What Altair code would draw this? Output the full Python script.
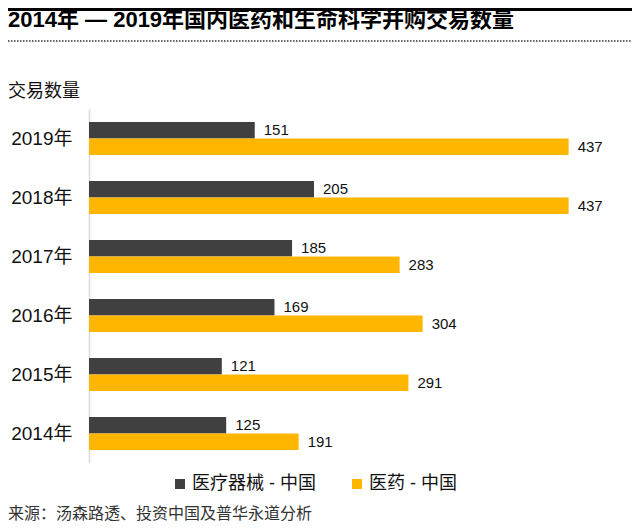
import altair as alt
import pandas as pd

years = ["2019年", "2018年", "2017年", "2016年", "2015年", "2014年"]
device = [151, 205, 185, 169, 121, 125]
pharma = [437, 437, 283, 304, 291, 191]
series_names = ["医疗器械 - 中国", "医药 - 中国"]
colors = ["#404040", "#FFB600"]

title_text = "2014年 — 2019年国内医药和生命科学并购交易数量"
ytitle_text = "交易数量"
source_text = "来源：汤森路透、投资中国及普华永道分析"

FONT = 'Liberation Sans, Arial, "Noto Sans CJK SC", sans-serif'

rows = []
for y, d, p in zip(years, device, pharma):
    rows.append({"year": y, "series": series_names[0], "value": d})
    rows.append({"year": y, "series": series_names[1], "value": p})
df = pd.DataFrame(rows)

base = alt.Chart(df).encode(
    y=alt.Y("year:N", sort=years,
            scale=alt.Scale(paddingInner=0.44, paddingOuter=0.22),
            axis=alt.Axis(title=None, ticks=False, domain=True, domainColor="#d9d9d9",
                          domainWidth=1.5, labelFontSize=19, labelColor="#111",
                          labelPadding=17, grid=False, labelFont=FONT)),
    yOffset=alt.YOffset("series:N", sort=series_names),
    x=alt.X("value:Q", scale=alt.Scale(domain=[0, 492]), axis=None),
)

bars = base.mark_bar(size=16.5).encode(
    color=alt.Color("series:N", sort=series_names,
                    scale=alt.Scale(domain=series_names, range=colors),
                    legend=alt.Legend(title=None, orient="none", direction="horizontal",
                                      legendX=82, legendY=366, symbolType="square",
                                      symbolSize=100, symbolStrokeWidth=0,
                                      labelFontSize=18, labelFont=FONT, labelColor="#111",
                                      labelOffset=3, columnPadding=32))
)

labels = base.mark_text(align="left", baseline="middle", dx=9, fontSize=15,
                        font=FONT, color="#111").encode(text="value:Q")

one = pd.DataFrame({"a": [0]})

top_line = alt.Chart(one).mark_rule(color="#000", strokeWidth=3).encode(
    x=alt.value(-81), x2=alt.value(543), y=alt.value(-99.5))
dot_line = alt.Chart(one).mark_rule(color="#333", strokeWidth=1.5, strokeDash=[1.5, 1.5]).encode(
    x=alt.value(-81), x2=alt.value(543), y=alt.value(-68))

title = alt.Chart(one).mark_text(align="left", baseline="middle", fontSize=22,
                                 fontWeight="bold", font=FONT, color="#000").encode(
    text=alt.value(title_text), x=alt.value(-81), y=alt.value(-89))
ytitle = alt.Chart(one).mark_text(align="left", baseline="middle", fontSize=18,
                                  font=FONT, color="#111").encode(
    text=alt.value(ytitle_text), x=alt.value(-81), y=alt.value(-17))
source = alt.Chart(one).mark_text(align="left", baseline="alphabetic", fontSize=16,
                                  font=FONT, color="#333").encode(
    text=alt.value(source_text), x=alt.value(-81), y=alt.value(410))

chart = alt.layer(bars, labels, top_line, dot_line, title, ytitle, source).properties(
    width=540, height=354,
    padding={"left": 81, "top": 101, "right": 3, "bottom": 58},
    autosize=alt.AutoSizeParams(type="none"),
).configure(font=FONT).configure_view(stroke=None)

chart.save("out.html", embed_options={"renderer": "svg", "actions": False})
